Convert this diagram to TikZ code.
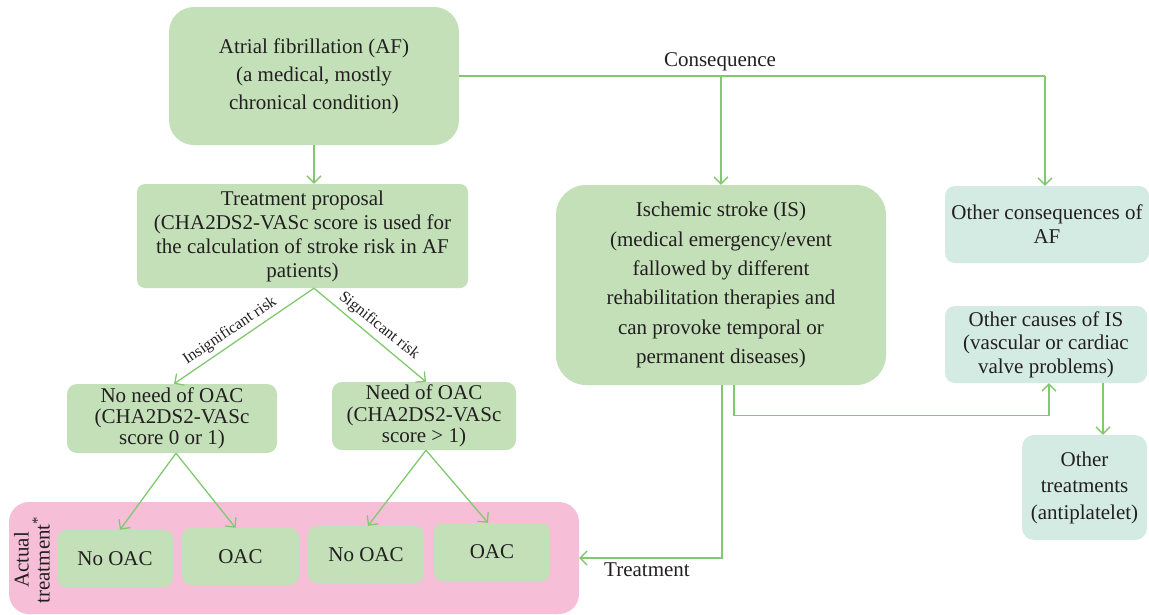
\documentclass[tikz,border=0pt]{standalone}
\usepackage{fontspec}
\setmainfont{Liberation Serif}
\usetikzlibrary{arrows.meta}
\definecolor{gfill}{HTML}{C3E0B9}
\definecolor{tfill}{HTML}{D3EBE3}
\definecolor{pfill}{HTML}{F6BFD7}
\definecolor{lnc}{HTML}{80C96F}
\definecolor{txt}{HTML}{231F20}
\begin{document}
\begin{tikzpicture}[x=1pt,y=-1pt,
  bx/.style 2 args={minimum width=#1pt,minimum height=#2pt},
  fs/.style={font=\fontsize{21}{#1}\selectfont},
  gbox/.style={fill=gfill,text=txt,align=center,inner sep=0pt},
  tbox/.style={fill=tfill,text=txt,align=center,inner sep=0pt},
  lbl/.style={text=txt,inner sep=0pt},
  cn/.style={draw=lnc,line width=1.3pt,-{Straight Barb[length=7pt,width=14pt]}},
  ln/.style={draw=lnc,line width=1.3pt}]
\useasboundingbox (0,0) rectangle (1149,614);
% nodes
\node[gbox,bx={290}{138},rounded corners=25pt,fs=28] (af) at (314,76) {Atrial fibrillation (AF)\\(a medical, mostly\\chronical condition)};
\node[gbox,bx={331}{104},rounded corners=8pt,fs=24] (tp) at (302.5,236) {Treatment proposal\\(CHA2DS2-VASc score is used for\\the calculation of stroke risk in AF\\patients)};
\node[gbox,bx={330}{200},rounded corners=30pt,fs=29.3] (is) at (721,285) {Ischemic stroke (IS)\\(medical emergency/event\\fallowed by different\\rehabilitation therapies and\\can provoke temporal or\\permanent diseases)};
\node[tbox,bx={204}{77},rounded corners=10pt,fs=24] (oc) at (1047,224.5) {Other consequences of\\AF};
\node[tbox,bx={202}{77},rounded corners=10pt,fs=23.5] (oca) at (1046,344.5) {Other causes of IS\\(vascular or cardiac\\valve problems)};
\node[tbox,bx={125}{105},rounded corners=12pt,fs=26.5] (ot) at (1084.5,487.5) {Other\\treatments\\(antiplatelet)};
\node[gbox,bx={210}{69},rounded corners=10pt,fs=21] (nn) at (172,418.5) {No need of OAC\\(CHA2DS2-VASc\\score 0 or 1)};
\node[gbox,bx={184}{68},rounded corners=10pt,fs=21.5] (nd) at (424,416) {Need of OAC\\(CHA2DS2-VASc\\score > 1)};
\node[fill=pfill,bx={570}{112},rounded corners=20pt,inner sep=0pt] (pk) at (294,558) {};
\node[lbl,fs=21,rotate=90,align=center] (at) at (32,560) {Actual\\treatment\textsuperscript{*}};
\node[gbox,bx={116}{57},rounded corners=9pt,fs=24] (n1) at (115,558.5) {No OAC};
\node[gbox,bx={117}{57},rounded corners=9pt,fs=24] (o1) at (240.5,556.5) {OAC};
\node[gbox,bx={116}{57},rounded corners=9pt,fs=24] (n2) at (366,554.5) {No OAC};
\node[gbox,bx={116}{58},rounded corners=9pt,fs=24] (o2) at (492,552) {OAC};
% connectors
\draw[cn] ([xshift=0pt]af.south) -- (af.south |- tp.north);
\draw[ln] (af.east) -- (1045,76) coordinate (cr);
\draw[cn] (cr) -- (cr |- oc.north);
\draw[cn] (is.north |- af.east) -- (is.north);
\node[lbl,fs=21] (cons) at (720,62) {Consequence};
\draw[cn] ([xshift=11.5pt]tp.south) -- ([xshift=2pt]nn.north);
\draw[cn] ([xshift=11.5pt]tp.south) -- ([xshift=2pt]nd.north);
\node[lbl,font=\fontsize{16}{16}\selectfont,rotate=34] (ir) at (230,331) {Insignificant risk};
\node[lbl,font=\fontsize{16}{16}\selectfont,rotate=-38.8] (sr) at (379,326) {Significant risk};
\draw[cn] ([xshift=4pt]nn.south) -- ([xshift=5pt]n1.north);
\draw[cn] ([xshift=4pt]nn.south) -- ([xshift=-5pt]o1.north);
\draw[cn] ([xshift=2pt]nd.south) -- ([xshift=2pt]n2.north);
\draw[cn] ([xshift=2pt]nd.south) -- ([xshift=-4pt]o2.north);
\draw[cn] ([xshift=1pt]is.south) |- (pk.east);
\node[lbl,fs=21] (trt) at (647,570) {Treatment};
\draw[cn] ([xshift=13pt]is.south) -- ++(0,30) -| ([xshift=3pt]oca.south);
\draw[cn] ([xshift=57pt]oca.south) -- ([xshift=57pt]oca.south |- ot.north);
\end{tikzpicture}
\end{document}
